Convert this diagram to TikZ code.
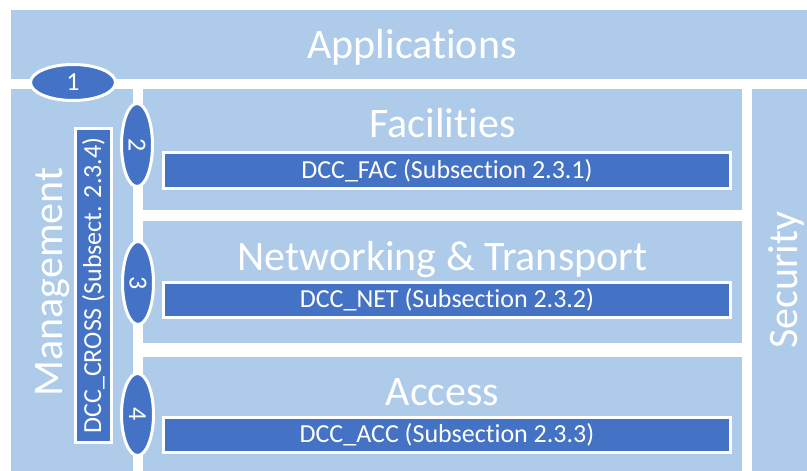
\documentclass[tikz,border=0pt]{standalone}
\usepackage{fontspec}
\setmainfont{Carlito}[Ligatures=NoCommon]
\usetikzlibrary{shapes.geometric}

\definecolor{layerblue}{RGB}{174,204,233}
\definecolor{dccblue}{RGB}{68,114,196}

\newcommand{\bigtxt}{\fontsize{42}{48}\selectfont}
\newcommand{\smalltxt}{\fontsize{26}{30}\selectfont}

\begin{document}
\begin{tikzpicture}[x=1pt,y=-1pt,
	layer/.style={rectangle, fill=layerblue, inner sep=0pt},
	title/.style={text=white, font=\bigtxt, inner sep=0pt, anchor=base},
	dccbox/.style={rectangle, draw=white, line width=3pt, fill=dccblue, text=white, font=\smalltxt, inner sep=0pt},
	num/.style={ellipse, draw=white, line width=3pt, fill=dccblue, text=white, font=\smalltxt, inner sep=0pt}]
	\useasboundingbox (0,0) rectangle (807,471);
	% layers of the stack
	\node (app) at (409,  44.5)	[layer, minimum width=796, minimum height=69]	{};
	\node (mgmt) at (72, 280)	[layer, minimum width=122, minimum height=382]	{};
	\node (fac) at (442.5, 149.5)	[layer, minimum width=599, minimum height=121]	{};
	\node (net) at (442.5, 282)	[layer, minimum width=599, minimum height=122]	{};
	\node (acc) at (442.5, 414)	[layer, minimum width=599, minimum height=114]	{};
	\node (sec) at (779.5, 280)	[layer, minimum width=55, minimum height=382]	{};
	% layer titles
	\node (appT) at (412, 58)	[title]	{Applications};
	\node (facT) at ([yshift=-49pt]fac.north)	[title]	{Facilities};
	\node (netT) at ([yshift=-50pt]net.north)	[title]	{Networking \& Transport};
	\node (accT) at ([yshift=-49pt]acc.north)	[title]	{Access};
	\node (mgmtT) at (62, 282)	[title, rotate=90]	{Management};
	\node (secT) at (797, 280)	[title, rotate=90]	{Security};
	% DCC components
	\node (dccFac) at (447, 170.5)	[dccbox, minimum width=567, minimum height=36]	{DCC\_FAC (Subsection 2.3.1)};
	\node (dccNet) at (447, 300)	[dccbox, minimum width=567, minimum height=35]	{DCC\_NET (Subsection 2.3.2)};
	\node (dccAcc) at (447, 435)	[dccbox, minimum width=567, minimum height=35]	{DCC\_ACC (Subsection 2.3.3)};
	\node (dccCross) at (93.5, 285.5)	[dccbox, rotate=90, minimum width=314, minimum height=36]	{DCC\_CROSS (Subsect. 2.3.4)};
	% interfaces
	\node (n1) at (73, 82.5)	[num, minimum width=85, minimum height=36]	{1};
	\node (n2) at (137, 145)	[num, rotate=-90, minimum width=83, minimum height=31]	{2};
	\node (n3) at (138, 283)	[num, rotate=-90, minimum width=83, minimum height=31]	{3};
	\node (n4) at (137.5, 414.5)	[num, rotate=-90, minimum width=82, minimum height=32]	{4};
\end{tikzpicture}
\end{document}
